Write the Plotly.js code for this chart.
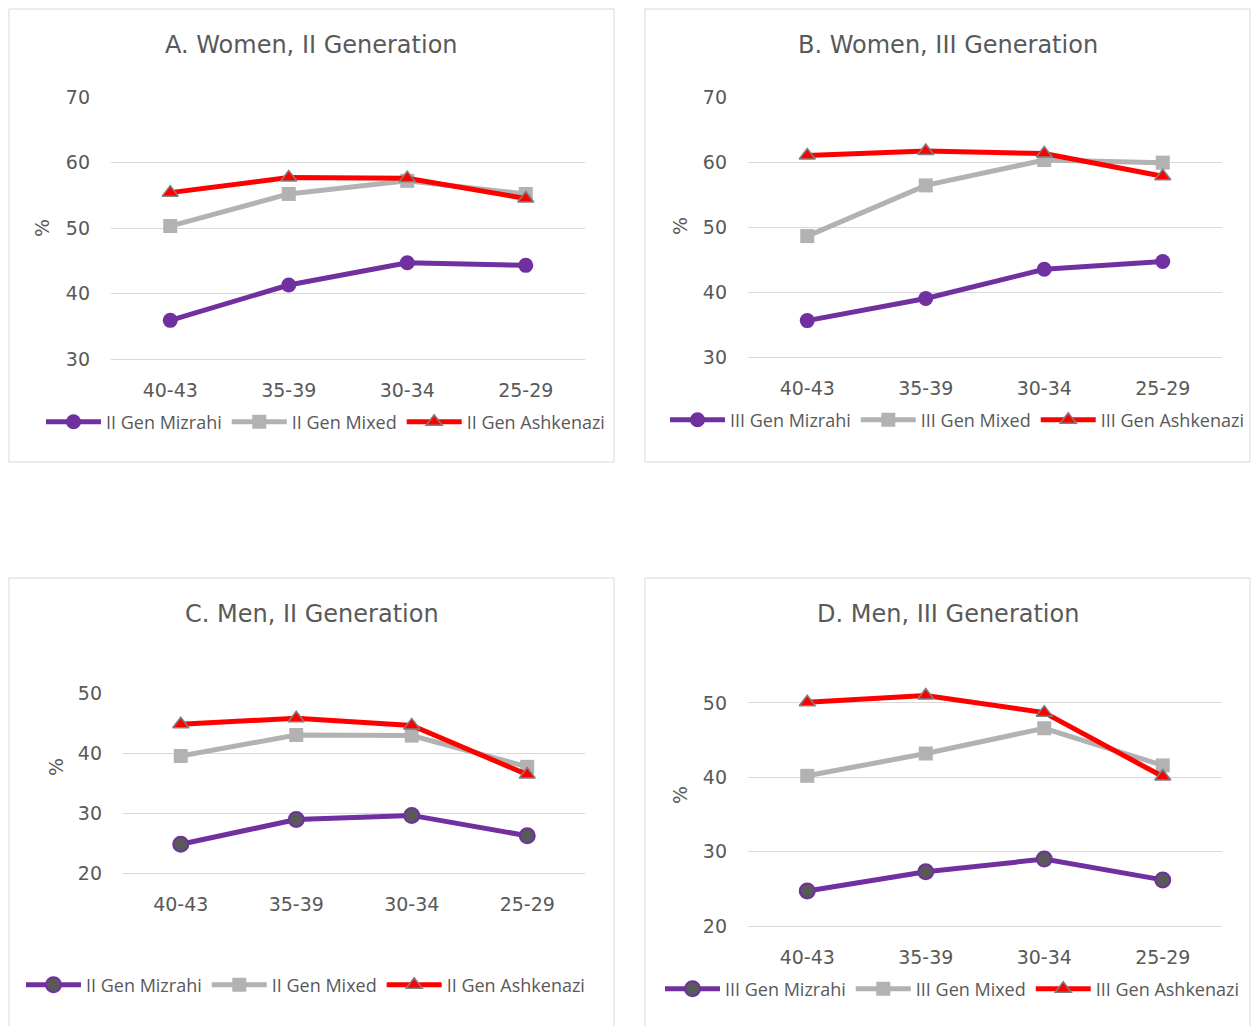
<!DOCTYPE html>
<html>
<head>
<meta charset="utf-8">
<script src="https://cdn.plot.ly/plotly-3.0.1.min.js"></script>
<style>html,body{margin:0;padding:0;background:#fff;overflow:hidden;}#chart{width:1259px;height:1026px;overflow:hidden;}</style>
</head>
<body>
<div id="chart"></div>
<script>
// ---- Data ----
const ageGroups = ['40-43', '35-39', '30-34', '25-29'];

const womenII_mizrahi   = [35.9, 41.3, 44.7, 44.3];
const womenII_mixed     = [50.3, 55.2, 57.2, 55.2];
const womenII_ashkenazi = [55.4, 57.7, 57.6, 54.5];

const womenIII_mizrahi   = [35.6, 39.0, 43.5, 44.7];
const womenIII_mixed     = [48.6, 56.4, 60.3, 59.9];
const womenIII_ashkenazi = [61.0, 61.7, 61.3, 57.8];

const menII_mizrahi   = [24.8, 28.9, 29.6, 26.2];
const menII_mixed     = [39.5, 43.0, 42.9, 37.7];
const menII_ashkenazi = [44.8, 45.8, 44.6, 36.4];

const menIII_mizrahi   = [24.7, 27.3, 29.0, 26.2];
const menIII_mixed     = [40.2, 43.2, 46.6, 41.6];
const menIII_ashkenazi = [50.1, 51.0, 48.7, 40.1];

const panelTitles = ['A. Women, II Generation', 'B. Women, III Generation', 'C. Men, II Generation', 'D. Men, III Generation'];
const seriesNamesII  = ['II Gen Mizrahi', 'II Gen Mixed', 'II Gen Ashkenazi'];
const seriesNamesIII = ['III Gen Mizrahi', 'III Gen Mixed', 'III Gen Ashkenazi'];
const yRangeWomen = [30, 70];
const yRangeMenII = [20, 50];
const yRangeMenIII = [20, 52];   // headroom above the 50 gridline so the top line is not clipped

// ---- Layout helpers ----
const W = 1259, H = 1026;
const X = px => px / W;
const Y = py => 1 - py / H;

const C_PURPLE = '#7030a0', C_GRAY = '#b2b2b2', C_RED = '#ff0000';
const TXT = '#595959', GRID = '#d9d9d9';

const panels = [
  { title: panelTitles[0], data: [womenII_mizrahi, womenII_mixed, womenII_ashkenazi], names: seriesNamesII,
    xd: [111, 585], yd: [359, 97], yr: yRangeWomen, box: [9, 9, 614, 462], titleY: 45, pctX: 42, pctY: 228,
    leg: [41, 422], mizFill: C_PURPLE },
  { title: panelTitles[1], data: [womenIII_mizrahi, womenIII_mixed, womenIII_ashkenazi], names: seriesNamesIII,
    xd: [748, 1222], yd: [357, 97], yr: yRangeWomen, box: [645, 9, 1250, 462], titleY: 45, pctX: 680, pctY: 226,
    leg: [665, 420], mizFill: C_PURPLE },
  { title: panelTitles[2], data: [menII_mizrahi, menII_mixed, menII_ashkenazi], names: seriesNamesII,
    xd: [123, 585], yd: [873, 693], yr: yRangeMenII, box: [9, 578, 614, 1040], titleY: 614, pctX: 56, pctY: 767,
    leg: [21, 985], mizFill: '#595959' },
  { title: panelTitles[3], data: [menIII_mizrahi, menIII_mixed, menIII_ashkenazi], names: seriesNamesIII,
    xd: [748, 1222], yd: [926, 688.1], yr: yRangeMenIII, box: [645, 578, 1250, 1040], titleY: 614, pctX: 680, pctY: 795,
    leg: [660, 989], mizFill: '#595959' }
];

const traces = [];
const layout = {
  width: W, height: H,
  margin: { l: 0, r: 0, t: 0, b: 0 },
  paper_bgcolor: '#fff', plot_bgcolor: 'rgba(0,0,0,0)',
  font: { family: 'DejaVu Sans', color: TXT, size: 19 },
  shapes: [], annotations: []
};

panels.forEach((p, i) => {
  const n = i + 1;
  const xa = n === 1 ? 'x' : 'x' + n;
  const ya = n === 1 ? 'y' : 'y' + n;
  const lg = n === 1 ? 'legend' : 'legend' + n;

  const styles = [
    { line: { color: C_PURPLE, width: 5 }, marker: { symbol: 'circle', size: 15, color: p.mizFill, line: { color: C_PURPLE, width: p.mizFill === C_PURPLE ? 0 : 2 } } },
    { line: { color: C_GRAY, width: 5 }, marker: { symbol: 'square', size: 14, color: C_GRAY, line: { width: 0 } } },
    { line: { color: C_RED, width: 5 }, marker: { symbol: 'triangle-up', size: 14, color: C_RED, line: { color: '#7f7f7f', width: 1.5 } } }
  ];
  p.data.forEach((vals, k) => {
    traces.push({
      type: 'scatter', mode: 'lines+markers',
      x: ageGroups, y: vals, name: p.names[k],
      xaxis: xa, yaxis: ya, legend: lg, cliponaxis: false,
      line: styles[k].line, marker: styles[k].marker,
      hoverinfo: 'x+y+name'
    });
  });

  layout['xaxis' + (n === 1 ? '' : n)] = {
    domain: [X(p.xd[0]), X(p.xd[1])], anchor: ya,
    type: 'category', range: [-0.5, 3.5],
    showgrid: false, zeroline: false,
    showline: true, linecolor: GRID, linewidth: 1,
    ticks: '', ticklabelstandoff: 14,
    tickfont: { family: 'DejaVu Sans', size: 19, color: TXT },
    fixedrange: true
  };
  layout['yaxis' + (n === 1 ? '' : n)] = {
    domain: [Y(p.yd[0]), Y(p.yd[1])], anchor: xa,
    range: p.yr, dtick: 10, tick0: 0,
    showgrid: true, gridcolor: GRID, gridwidth: 1,
    zeroline: false, showline: false, ticks: '',
    ticklabelstandoff: 20,
    tickfont: { family: 'DejaVu Sans', size: 19, color: TXT },
    fixedrange: true
  };
  layout[lg] = {
    orientation: 'h', x: X(p.leg[0]), xanchor: 'left', y: Y(p.leg[1]), yanchor: 'middle',
    bgcolor: 'rgba(0,0,0,0)', borderwidth: 0,
    font: { family: 'Open Sans', size: 18, color: TXT },
    itemwidth: 55, traceorder: 'normal', itemclick: false, itemdoubleclick: false
  };

  layout.shapes.push({
    type: 'rect', xref: 'paper', yref: 'paper',
    x0: X(p.box[0]), x1: X(p.box[2]), y0: Y(p.box[3]), y1: Y(p.box[1]),
    line: { color: GRID, width: 1 }, fillcolor: 'rgba(0,0,0,0)', layer: 'below'
  });
  layout.annotations.push({
    xref: 'paper', yref: 'paper', x: X((p.box[0] + p.box[2]) / 2), y: Y(p.titleY),
    xanchor: 'center', yanchor: 'middle', showarrow: false,
    text: p.title, font: { family: 'DejaVu Sans', size: 24, color: TXT }
  });
  layout.annotations.push({
    xref: 'paper', yref: 'paper', x: X(p.pctX), y: Y(p.pctY),
    xanchor: 'center', yanchor: 'middle', showarrow: false, textangle: -90,
    text: '%', font: { family: 'DejaVu Sans', size: 19, color: TXT }
  });
});

Plotly.newPlot('chart', traces, layout, { displayModeBar: false });
</script>
</body>
</html>
